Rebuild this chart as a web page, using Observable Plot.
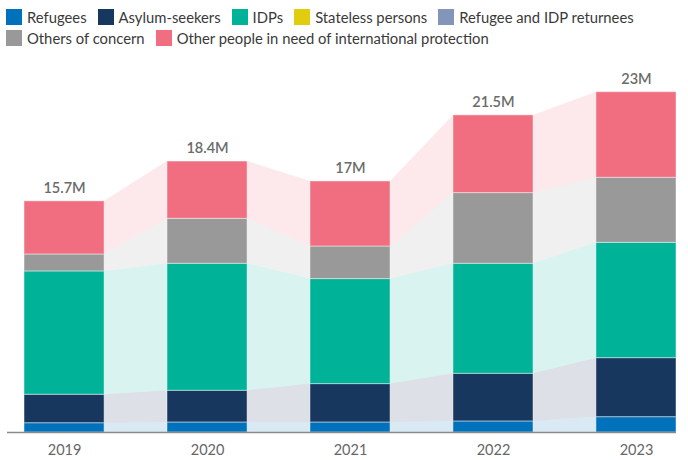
<!DOCTYPE html>
<html>
<head>
<meta charset="utf-8">
<script src="https://cdn.jsdelivr.net/npm/d3@7"></script>
<script src="https://cdn.jsdelivr.net/npm/@observablehq/plot@0.6"></script>
<style>
  body { margin: 0; background: #fff; font-family: Lato, "Noto Sans", sans-serif; }
  #legend { height: 50px; box-sizing: border-box; padding: 6px 0 0 6px; color: #3a3a3a; font-size: 14.8px; }
  .row { display: flex; align-items: center; height: 21px; }
  .item { display: flex; align-items: center; margin-right: 11px; }
  .sw { width: 16px; height: 16px; margin-right: 5px; }
  svg { display: block; }
</style>
</head>
<body>
<div id="legend"></div>
<div id="chart"></div>
<script>
const years = [2019, 2020, 2021, 2022, 2023];
const seriesNames = ["Refugees", "Asylum-seekers", "IDPs", "Stateless persons", "Refugee and IDP returnees", "Others of concern", "Other people in need of international protection"];
const seriesColors = ["#0072BC", "#18375F", "#00B398", "#E1CC0D", "#8395B9", "#999999", "#F06E80"];
const refugees = [0.63, 0.68, 0.68, 0.75, 1.04];
const asylumSeekers = [1.93, 2.15, 2.60, 3.23, 4.00];
const idps = [8.36, 8.61, 7.12, 7.46, 7.82];
const stateless = [0, 0, 0, 0, 0];
const returnees = [0, 0, 0, 0, 0];
const othersOfConcern = [1.15, 3.05, 2.21, 4.79, 4.41];
const otherInNeed = [3.60, 3.88, 4.41, 5.27, 5.80];
const totalLabels = ["15.7M", "18.4M", "17M", "21.5M", "23M"];
const legendRows = [[0, 1, 2, 3, 4], [5, 6]];

const seriesValues = [refugees, asylumSeekers, idps, stateless, returnees, othersOfConcern, otherInNeed];
const halfWidth = 0.28;

const rows = [];
years.forEach((year, i) => {
  seriesNames.forEach((s, j) => rows.push({year, series: s, value: seriesValues[j][i]}));
});
const areaRows = rows.flatMap(d => [
  {x: d.year - halfWidth, series: d.series, value: d.value},
  {x: d.year + halfWidth, series: d.series, value: d.value}
]);
const totals = years.map((year, i) => ({
  year,
  total: seriesValues.reduce((a, arr) => a + arr[i], 0),
  label: totalLabels[i]
}));

// legend
const legend = document.getElementById("legend");
legendRows.forEach(r => {
  const row = document.createElement("div");
  row.className = "row";
  r.forEach(j => {
    const it = document.createElement("div");
    it.className = "item";
    const sw = document.createElement("div");
    sw.className = "sw";
    sw.style.background = seriesColors[j];
    const t = document.createElement("span");
    t.textContent = seriesNames[j];
    it.appendChild(sw); it.appendChild(t);
    row.appendChild(it);
  });
  legend.appendChild(row);
});

const chart = Plot.plot({
  width: 688,
  height: 410,
  marginLeft: 7,
  marginRight: 12,
  marginTop: 28,
  marginBottom: 28,
  style: {fontFamily: "Lato, 'Noto Sans', sans-serif", background: "white"},
  x: {domain: [2018.601, 2023.28]},
  y: {domain: [0, 24], axis: null},
  color: {domain: seriesNames, range: seriesColors},
  marks: [
    Plot.areaY(areaRows, {x: "x", y: "value", z: "series", fill: "series", fillOpacity: 0.15, order: seriesNames}),
    Plot.rectY(rows, {x1: d => d.year - halfWidth, x2: d => d.year + halfWidth, y: "value", fill: "series", order: seriesNames, stroke: "white", strokeOpacity: 0.45, strokeWidth: 1}),
    Plot.ruleY([0], {stroke: "#8a8a8a", strokeWidth: 1.5}),
    Plot.text(totals, {x: "year", y: "total", text: "label", dy: -13, fontSize: 14.5, fill: "#6b6b6b", fontWeight: 600}),
    Plot.axisX({ticks: years, tickFormat: d => String(d), tickSize: 0, tickPadding: 12, fontSize: 14.5, color: "#666"})
  ]
});
document.getElementById("chart").appendChild(chart);
</script>
</body>
</html>
